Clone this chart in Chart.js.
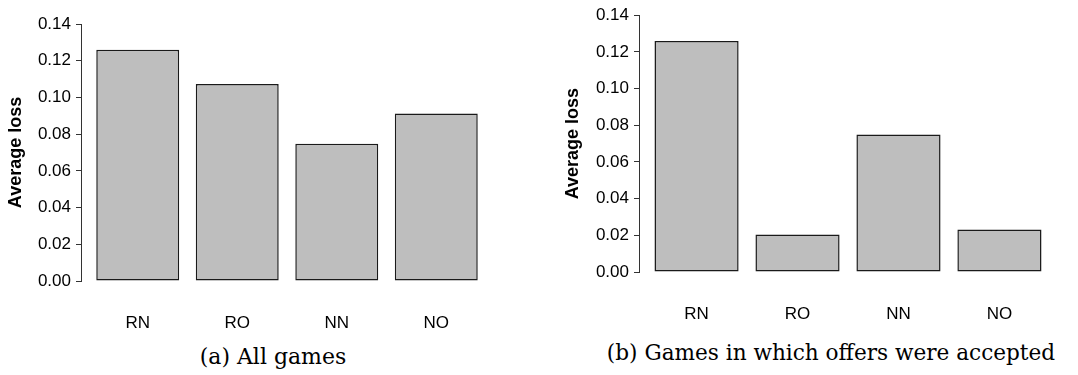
<!DOCTYPE html>
<html>
<head>
<meta charset="utf-8">
<script src="https://cdn.jsdelivr.net/npm/chart.js@4/dist/chart.umd.min.js"></script>
<style>
  body { margin: 0; background: #fff; width: 1078px; height: 375px; position: relative; overflow: hidden; }
  .box { position: absolute; top: 0; height: 340px; }
  .cap { position: absolute; font-family: "DejaVu Serif", serif; font-size: 22px; color: #000; white-space: nowrap; transform: translateX(-50%); }
</style>
</head>
<body>
<div class="box" style="left:0;width:540px"><canvas id="allGames"></canvas></div>
<div class="box" style="left:540px;width:538px"><canvas id="accepted"></canvas></div>
<div class="cap" style="left:273px;top:344px">(a) All games</div>
<div class="cap" style="left:831px;top:340px;font-size:21.6px">(b) Games in which offers were accepted</div>

<script>
//Data//
const treatments = ["RN", "RO", "NN", "NO"];
const lossAll = [0.126, 0.1073, 0.0748, 0.0913];
const lossAccepted = [0.1259, 0.0204, 0.0749, 0.0232];
const yTicks = [0, 0.02, 0.04, 0.06, 0.08, 0.10, 0.12, 0.14];

// barplot style spacing: width 1, space 0.2
const barPos = treatments.map((t, i) => 0.2 + i * 1.2 + 0.5);

function lossChart(id, values, box) {
  const data = {
    datasets: [
      {
        data: values.map((v, i) => ({ x: barPos[i], y: v })),
        backgroundColor: "#bebebe",
        borderColor: "#1a1a1a",
        borderWidth: 1.5,
        borderSkipped: false,
        barPercentage: 1,
        categoryPercentage: 1 / 1.2,
      },
    ],
  };

  const config = {
    type: "bar",
    data: data,
    options: {
      responsive: true,
      maintainAspectRatio: false,
      animation: false,
      layout: {
        padding: { top: box.top, right: box.right, left: 0, bottom: 0 },
      },
      scales: {
        x: {
          type: "linear",
          offset: false,
          min: 0.016,
          max: 4.984,
          afterBuildTicks: (scale) => {
            scale.ticks = barPos.map((v) => ({ value: v }));
          },
          afterFit: (scale) => {
            scale.height = box.xHeight;
          },
          grid: { display: false, drawTicks: false, offset: false },
          border: { display: false },
          ticks: {
            padding: 32,
            color: "#000",
            font: { family: "Liberation Sans", size: 17 },
            callback: (value, index) => treatments[index],
          },
        },
        y: {
          min: 0,
          max: 0.14,
          afterBuildTicks: (scale) => {
            scale.ticks = yTicks.map((v) => ({ value: v }));
          },
          afterFit: (scale) => {
            scale.width = box.yWidth;
          },
          grid: {
            drawOnChartArea: false,
            drawTicks: true,
            tickLength: 5,
            color: "#333333",
          },
          border: { display: true, color: "#333333", width: 1 },
          ticks: {
            padding: 5,
            color: "#000",
            font: { family: "Liberation Sans", size: 17 },
            callback: (value) => value.toFixed(2),
          },
          title: {
            display: true,
            text: "Average loss",
            color: "#000",
            font: { family: "Liberation Sans", size: 18, weight: "bold" },
            padding: { top: box.titlePad, bottom: 0 },
          },
        },
      },
      plugins: {
        legend: { display: false },
        tooltip: { enabled: false },
      },
    },
  };
  new Chart(document.getElementById(id).getContext("2d"), config);
}

lossChart("allGames", lossAll, { top: 24, right: 47, xHeight: 59, yWidth: 81, titlePad: 5 });
lossChart("accepted", lossAccepted, { top: 14, right: 21, xHeight: 68, yWidth: 99, titlePad: 22 });
</script>
</body>
</html>
